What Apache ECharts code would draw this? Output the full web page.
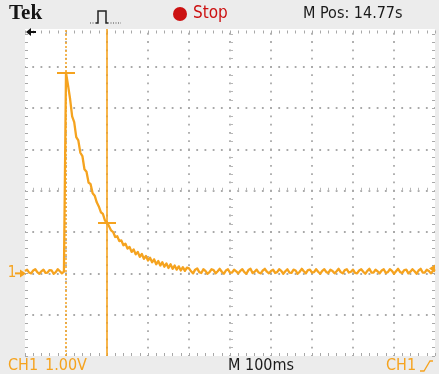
<!DOCTYPE html>
<html><head><meta charset="utf-8">
<script src="https://cdn.jsdelivr.net/npm/echarts@6/dist/echarts.min.js"></script>
<style>html,body{margin:0;padding:0;background:#ececec}#c{width:439px;height:374px}</style>
</head><body><div id="c"></div>
<script>
// ---- data ----
const sampleStepMs = 5;               // time between samples, ms
const preTriggerV = [0.06, 0.09, 0.02, 0.0, 0.07, 0.1, 0.03, -0.01, 0.05, 0.09,
  0.01, 0.02, 0.08, 0.07, -0.01, 0.03, 0.1, 0.05, 0.0, 0.04];
const decayV = [4.86, 4.55, 4.22, 3.80, 3.66, 3.30, 3.22, 2.92, 2.84, 2.52,
  2.46, 2.20, 2.16, 1.94, 1.88, 1.72, 1.62, 1.48, 1.44, 1.28,
  1.24, 1.14, 1.04, 1.00, 0.88, 0.90, 0.78, 0.80, 0.68, 0.72,
  0.60, 0.64, 0.52, 0.58, 0.46, 0.52, 0.40, 0.47, 0.35, 0.42,
  0.31, 0.38, 0.27, 0.34, 0.22, 0.30, 0.19, 0.27, 0.16, 0.24,
  0.13, 0.22, 0.11, 0.19, 0.09, 0.17, 0.07, 0.15, 0.06, 0.14];
const tailV = [0.12, 0.05, 0.0, 0.09, 0.12, 0.03, 0.01, 0.1, 0.06, -0.01, 0.03, 0.1,
  0.08, 0.0, 0.05, 0.11, 0.04, -0.01, 0.07, 0.1, 0.02, 0.02, 0.09, 0.05,
  0.0, 0.06, 0.1, 0.03, -0.01, 0.08, 0.11, 0.01, 0.04, 0.09, 0.02, 0.0,
  0.07, 0.11, 0.04, 0.0, 0.06, 0.09, 0.01, 0.03, 0.1, 0.06, -0.01, 0.05,
  0.1, 0.02, 0.01, 0.09, 0.07, -0.01, 0.04, 0.11, 0.05, 0.0, 0.08, 0.09,
  0.02, 0.03, 0.1, 0.04, -0.01, 0.06, 0.1, 0.03, 0.01, 0.09, 0.06, 0.0,
  0.05, 0.11, 0.03, 0.0, 0.08, 0.1, 0.02, 0.04, 0.09, 0.01, 0.0, 0.07,
  0.1, 0.04, -0.01, 0.06, 0.11, 0.02, 0.02, 0.09, 0.05, 0.0, 0.07, 0.1,
  0.01, 0.03, 0.1, 0.06, -0.01, 0.05, 0.11, 0.03, 0.01, 0.08, 0.09, 0.0,
  0.04, 0.1, 0.05, -0.01, 0.07, 0.11, 0.02, 0.02, 0.09, 0.06, 0.0, 0.06,
  0.1];
const cursorTimesMs = [100, 200];
const cursorLevelsV = [4.86, 1.22];
const cursorHalfWidthMs = 22;
const triggerLevelV = 0.12;
const groundLevelV = 0;
const xRangeMs = [0, 1000], xDivMs = 100;
const yRangeV = [-2, 6], yDivV = 1;
const headerTexts = {brand: 'Tek', state: 'Stop', pos: 'M Pos: 14.77s'};
const footerTexts = {ch: 'CH1', scale: '1.00V', time: 'M 100ms', trig: 'CH1'};

// ---- build ----
const volts = preTriggerV.concat(decayV, tailV);
const timeMs = volts.map((v, i) => i * sampleStepMs);
const seriesData = timeMs.map((t, i) => [t, volts[i]]);

const ORANGE = '#f5a31f';
const TICK = '#a8a8a8';
const DOT = '#a9a9a9';
const NARROW = "'Liberation Sans Narrow','DejaVu Sans Condensed','Roboto Condensed',sans-serif";
const G = {left: 25, top: 25.5, width: 410, height: 330.5};

function edgeAxis(extra) {
  return Object.assign({
    type: 'value', gridIndex: 0,
    axisLine: {show: false, onZero: false},
    axisTick: {show: true, inside: true, length: 3, lineStyle: {color: TICK, width: 1}},
    minorTick: {show: true, splitNumber: 5, length: 3, lineStyle: {color: TICK, width: 1}},
    axisLabel: {show: false},
    splitLine: {show: false}
  }, extra);
}
function centerAxis(extra) {
  return Object.assign({
    type: 'value', gridIndex: 1,
    axisLine: {show: true, onZero: true, lineStyle: {color: 'rgba(0,0,0,0)'}},
    axisTick: {show: false, inside: true},
    minorTick: {show: true, splitNumber: 5, length: 3, lineStyle: {color: '#b8b8b8', width: 1}},
    axisLabel: {show: false},
    splitLine: {show: false}
  }, extra);
}

const chart = echarts.init(document.getElementById('c'), null, {renderer: 'canvas'});
chart.setOption({
  animation: false,
  backgroundColor: '#ececec',
  grid: [
    Object.assign({show: true, backgroundColor: '#ffffff', borderWidth: 0}, G),
    Object.assign({show: false}, G)
  ],
  xAxis: [
    edgeAxis({position: 'bottom', min: xRangeMs[0], max: xRangeMs[1], interval: xDivMs,
      splitLine: {show: true, showMinLine: false, showMaxLine: false,
        lineStyle: {color: DOT, width: 1.8, type: [1.8, 6.46], dashOffset: 0.9}}}),
    edgeAxis({position: 'top', offset: -5, min: xRangeMs[0], max: xRangeMs[1], interval: xDivMs}),
    centerAxis({min: -5, max: 5, interval: 1})
  ],
  yAxis: [
    edgeAxis({position: 'left', min: yRangeV[0], max: yRangeV[1], interval: yDivV,
      splitLine: {show: true, showMinLine: false, showMaxLine: false,
        lineStyle: {color: DOT, width: 1.8, type: [1.8, 6.4], dashOffset: 0.9}}}),
    edgeAxis({position: 'right', min: yRangeV[0], max: yRangeV[1], interval: yDivV}),
    centerAxis({min: -4, max: 4, interval: 1})
  ],
  series: [{
    type: 'line', xAxisIndex: 0, yAxisIndex: 0,
    data: seriesData, showSymbol: false, symbol: 'none', smooth: false,
    lineStyle: {color: ORANGE, width: 2.3, join: 'round'}, z: 5,
    markLine: {
      silent: true, symbol: 'none', label: {show: false}, animation: false,
      data: [
        {xAxis: cursorTimesMs[0], lineStyle: {color: ORANGE, width: 1.5, type: [2, 2]}},
        {xAxis: cursorTimesMs[1], lineStyle: {color: ORANGE, width: 1.6, type: 'solid'}},
        [{coord: [cursorTimesMs[0] - cursorHalfWidthMs, cursorLevelsV[0]], lineStyle: {color: ORANGE, width: 2, type: 'solid'}},
         {coord: [cursorTimesMs[0] + cursorHalfWidthMs, cursorLevelsV[0]]}],
        [{coord: [cursorTimesMs[1] - cursorHalfWidthMs, cursorLevelsV[1]], lineStyle: {color: ORANGE, width: 2, type: 'solid'}},
         {coord: [cursorTimesMs[1] + cursorHalfWidthMs, cursorLevelsV[1]]}]
      ]
    }
  }]
});

// indicators positioned through the chart's own scales
const gnd = chart.convertToPixel({gridIndex: 0}, [xRangeMs[0], groundLevelV]);
const trg = chart.convertToPixel({gridIndex: 0}, [xRangeMs[1], triggerLevelV]);
const gy = gnd[1], ty = trg[1], rx = trg[0];

chart.setOption({
  graphic: [
    {type: 'rect', z: 100, shape: {x: 0, y: 0, width: 439, height: 29}, style: {fill: '#ececec'}},
    {type: 'text', z: 101, x: 9, y: 14, style: {text: headerTexts.brand, fontFamily: "'Liberation Serif',serif", fontWeight: 'bold', fontSize: 21, fill: '#151515', textVerticalAlign: 'middle'}},
    {type: 'polyline', z: 101, shape: {points: [[96, 23], [98, 23], [98, 11], [106, 11], [106, 23], [108, 23]]}, style: {stroke: '#222', lineWidth: 1.5, fill: null}},
    {type: 'line', z: 101, shape: {x1: 90, y1: 23, x2: 96, y2: 23}, style: {stroke: '#444', lineWidth: 1.2, lineDash: [1, 1.5]}},
    {type: 'line', z: 101, shape: {x1: 108, y1: 23, x2: 121, y2: 23}, style: {stroke: '#444', lineWidth: 1.2, lineDash: [1, 1.5]}},
    {type: 'circle', z: 101, shape: {cx: 180, cy: 14, r: 7}, style: {fill: '#cc1111'}},
    {type: 'text', z: 101, x: 193, y: 14, style: {text: headerTexts.state, fontFamily: NARROW, fontSize: 17, fill: '#cc1111', textVerticalAlign: 'middle'}},
    {type: 'text', z: 101, x: 303, y: 14, style: {text: headerTexts.pos, fontFamily: NARROW, fontSize: 16, fill: '#1a1a1a', textVerticalAlign: 'middle'}},
    // trigger position arrow (top-left)
    {type: 'polygon', z: 101, shape: {points: [[26, 32], [31, 28], [31, 36]]}, style: {fill: '#111'}},
    {type: 'line', z: 101, shape: {x1: 30, y1: 32, x2: 36, y2: 32}, style: {stroke: '#111', lineWidth: 2}},
    // ground marker
    {type: 'text', z: 101, x: 12, y: gy, style: {text: '1', fontFamily: NARROW, fontSize: 15, fill: ORANGE, textAlign: 'center', textVerticalAlign: 'middle'}},
    {type: 'line', z: 101, shape: {x1: 15, y1: gy, x2: 21, y2: gy}, style: {stroke: ORANGE, lineWidth: 2}},
    {type: 'polygon', z: 101, shape: {points: [[20, gy - 4], [26, gy], [20, gy + 4]]}, style: {fill: ORANGE}},
    // trigger level marker
    {type: 'polygon', z: 101, shape: {points: [[rx - 6, ty], [rx, ty - 4], [rx, ty + 4]]}, style: {fill: ORANGE}},
    // footer
    {type: 'text', z: 101, x: 8, y: 366, style: {text: footerTexts.ch, fontFamily: NARROW, fontSize: 16, fill: ORANGE, textVerticalAlign: 'middle'}},
    {type: 'text', z: 101, x: 45, y: 366, style: {text: footerTexts.scale, fontFamily: NARROW, fontSize: 16, fill: ORANGE, textVerticalAlign: 'middle'}},
    {type: 'text', z: 101, x: 228, y: 366, style: {text: footerTexts.time, fontFamily: NARROW, fontSize: 16, fill: '#1a1a1a', textVerticalAlign: 'middle'}},
    {type: 'text', z: 101, x: 386, y: 366, style: {text: footerTexts.trig, fontFamily: NARROW, fontSize: 16, fill: ORANGE, textVerticalAlign: 'middle'}},
    {type: 'polyline', z: 101, shape: {points: [[420, 371], [424, 371], [430, 361], [433, 361]]}, style: {stroke: ORANGE, lineWidth: 1.3, fill: null}}
  ]
});
</script></body></html>
